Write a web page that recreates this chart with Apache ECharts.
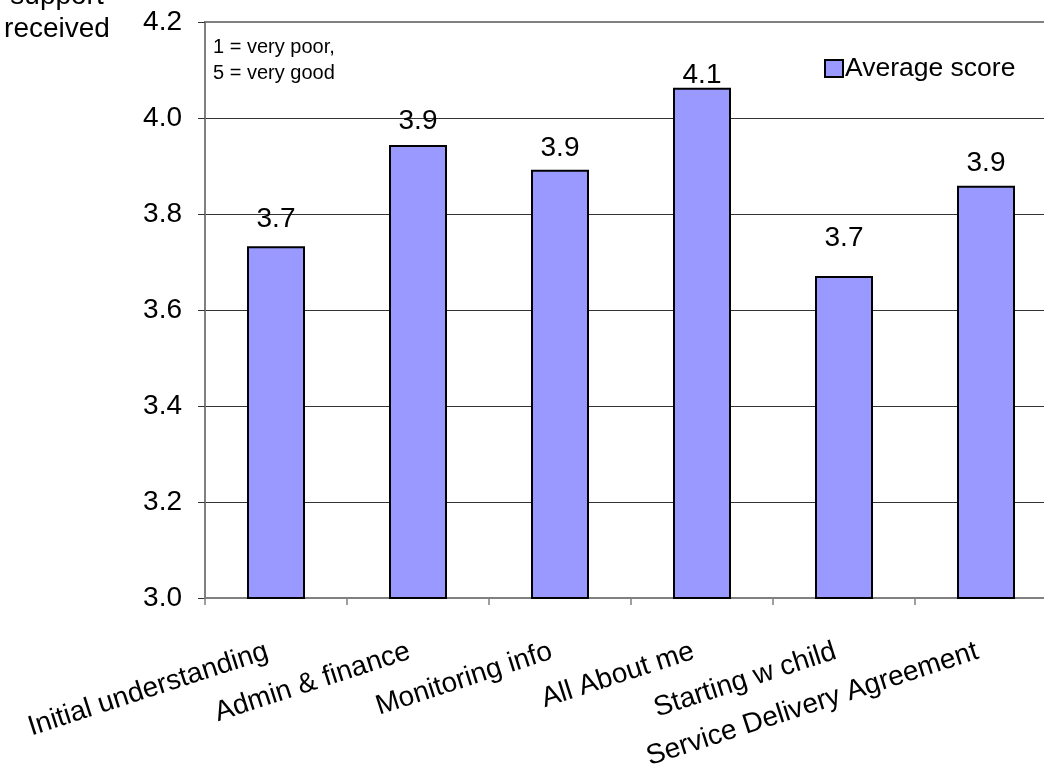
<!DOCTYPE html>
<html>
<head>
<meta charset="utf-8">
<script src="https://cdn.jsdelivr.net/npm/echarts@6/dist/echarts.min.js"></script>
<style>html,body{margin:0;padding:0;background:#fff}#c{width:1044px;height:768px}</style>
</head>
<body>
<div id="c"></div>
<script>
const categories = ['Initial understanding', 'Admin & finance', 'Monitoring info', 'All About me', 'Starting w child', 'Service Delivery Agreement'];
const averageScore = [3.733, 3.944, 3.892, 4.063, 3.671, 3.859];
const yTicks = [3.0, 3.2, 3.4, 3.6, 3.8, 4.0, 4.2];
const seriesName = 'Average score';
const noteText = '1 = very poor,\n5 = very good';
const yTitle = 'support\nreceived';
// gap between each value label and its bar, as drawn in the original
const labelGap = [13, 10, 8, -2, 24, 8];

const chart = echarts.init(document.getElementById('c'), null, {renderer: 'canvas'});
const FONT = 'Liberation Sans, Arial, sans-serif';
const gridColors = yTicks.map((v, i) => i === yTicks.length - 1 ? '#808080' : '#333333');
chart.setOption({
  animation: false,
  textStyle: {fontFamily: FONT},
  grid: {left: 205, width: 852, top: 22, height: 576, containLabel: false, outerBoundsMode: 'none',
    show: true, borderColor: '#808080', borderWidth: 2, backgroundColor: 'transparent'},
  legend: {
    data: [seriesName], left: 824, top: 55, padding: 0, icon: 'rect', itemWidth: 18, itemHeight: 17, itemGap: 4,
    textStyle: {fontSize: 26.5, color: '#000', fontFamily: FONT, padding: [0, 0, 0, -3]}
  },
  xAxis: {
    type: 'category', data: categories,
    axisLine: {lineStyle: {color: '#808080', width: 2}},
    axisTick: {show: true, length: 7, lineStyle: {color: '#808080', width: 1.5}},
    axisLabel: {rotate: 18, fontSize: 28, color: '#000', margin: 50, interval: 0, fontFamily: FONT,
      padding: [0, 9, 0, 0]}
  },
  yAxis: {
    type: 'value', min: yTicks[0], max: yTicks[yTicks.length - 1], interval: 0.2,
    axisLine: {show: true, lineStyle: {color: '#808080', width: 2}},
    axisTick: {show: true, length: 7, inside: false, lineStyle: {color: '#333333', width: 1}},
    axisLabel: {fontSize: 28, color: '#000', margin: 23, fontFamily: FONT, formatter: v => v.toFixed(1)},
    splitLine: {show: true, lineStyle: {color: gridColors, width: 1}}
  },
  series: [{
    name: seriesName, type: 'bar', barWidth: 58,
    data: averageScore.map((v, i) => ({value: v, label: {distance: labelGap[i]}})),
    itemStyle: {color: '#9999FF', borderColor: '#000', borderWidth: 2},
    label: {show: true, position: 'top', distance: 13, fontSize: 28, color: '#000', fontFamily: FONT,
      formatter: p => p.value.toFixed(1)}
  }],
  graphic: [
    {type: 'text', x: 213, y: 34, style: {text: noteText, font: '20px ' + FONT, lineHeight: 26, fill: '#000'}},
    {type: 'text', x: 57, y: -20, style: {text: yTitle, font: '28px ' + FONT, lineHeight: 33, fill: '#000', align: 'center'}}
  ]
});
</script>
</body>
</html>
